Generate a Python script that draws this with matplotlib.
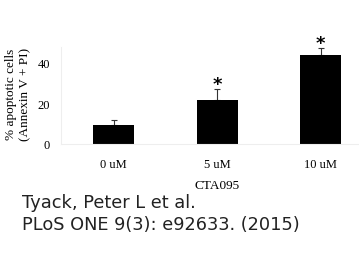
import matplotlib
matplotlib.use("Agg")
import matplotlib.pyplot as plt

categories = ["0 uM", "5 uM", "10 uM"]
values = [9.4, 21.7, 43.8]
errors = [2.4, 5.3, 3.1]
significant = [False, True, True]
yticks = [0, 20, 40]

fig = plt.figure(figsize=(3.59, 2.55), dpi=100)
ax = fig.add_axes([61/359, 1-145/255, (359-61)/359, (145-48)/255])

x = list(range(len(categories)))
ax.bar(x, values, width=0.4, color="black", zorder=2)
ax.errorbar(x, values, yerr=[[0]*len(errors), errors], fmt="none",
            ecolor="#333333", elinewidth=0.8, capsize=2.5, capthick=0.8, zorder=1)
for xi, v, e, s in zip(x, values, errors, significant):
    if s:
        ax.text(xi, v + e + 2.5, "*", ha="center", va="center",
                fontsize=13, fontweight="bold", family="DejaVu Sans")

ax.set_xlim(-0.51, 2.37)
ax.set_ylim(0, 47.5)
ax.set_xticks(x)
ax.set_xticklabels(categories, family="Liberation Serif", fontsize=9)
ax.set_yticks(yticks)
ax.set_yticklabels([str(t) for t in yticks], family="Liberation Serif", fontsize=9)
ax.tick_params(axis="x", length=0, pad=10)
ax.tick_params(axis="y", length=0, pad=8)
for side in ["top", "right"]:
    ax.spines[side].set_visible(False)
for side in ["left", "bottom"]:
    ax.spines[side].set_color("#eeeeee")
    ax.spines[side].set_linewidth(0.8)

fig.text(217/359, 1-186/255, "CTA095", ha="center", va="center",
         family="Liberation Serif", fontsize=9.5)
fig.text(11/359, 1-94/255, "% apoptotic cells", rotation=90, ha="center",
         va="center", family="Liberation Serif", fontsize=9.5)
fig.text(25/359, 1-94/255, "(Annexin V + PI)", rotation=90, ha="center",
         va="center", family="Liberation Serif", fontsize=9.5)

fig.text(22/359, 1-203/255, "Tyack, Peter L et al.", ha="left", va="center",
         family="DejaVu Sans", fontsize=12.8, color="#222222")
fig.text(22/359, 1-225/255, "PLoS ONE 9(3): e92633. (2015)", ha="left",
         va="center", family="DejaVu Sans", fontsize=12.8, color="#222222")

fig.savefig("out.png", dpi=100)
